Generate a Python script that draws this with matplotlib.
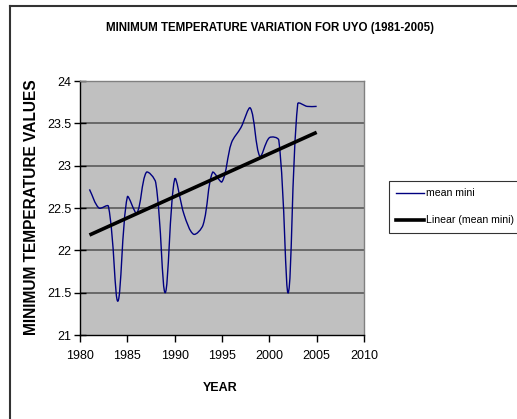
import numpy as np
import matplotlib
matplotlib.use("Agg")
import matplotlib.pyplot as plt
from matplotlib.path import Path
from matplotlib.patches import PathPatch
from matplotlib.lines import Line2D

years = [1981, 1982, 1983, 1984, 1985, 1986, 1987, 1988, 1989, 1990,
         1991, 1992, 1993, 1994, 1995, 1996, 1997, 1998, 1999, 2000,
         2001, 2002, 2003, 2004, 2005]
mean_mini = [22.72, 22.50, 22.52, 21.40, 22.63, 22.44, 22.92, 22.80, 21.50, 22.84,
             22.42, 22.19, 22.30, 22.92, 22.81, 23.27, 23.45, 23.68, 23.11, 23.33,
             23.30, 21.50, 23.73, 23.70, 23.70]
x_ticks = [1980, 1985, 1990, 1995, 2000, 2005, 2010]
y_ticks = [21, 21.5, 22, 22.5, 23, 23.5, 24]
y_tick_labels = ["21", "21.5", "22", "22.5", "23", "23.5", "24"]
title = "MINIMUM TEMPERATURE VARIATION FOR UYO (1981-2005)"
x_label = "YEAR"
y_label = "MINIMUM TEMPERATURE VALUES"
series_name = "mean mini"
trend_name = "Linear (mean mini)"

FONT = ["Liberation Sans", "DejaVu Sans"]

W, H = 517, 419
fig = plt.figure(figsize=(W / 100, H / 100), dpi=100)
fig.patch.set_facecolor("white")

ax = fig.add_axes([80 / W, 1 - 335 / H, (364 - 80) / W, (335 - 81) / H])
ax.set_facecolor("#C0C0C0")
ax.set_xlim(1980, 2010)
ax.set_ylim(21, 24)

for yv in y_ticks[1:-1]:
    ax.axhline(yv, color="#5a5a5a", lw=1.2, zorder=1)

# smoothed line: chord-weighted cubic Bezier through the data (Excel-like smoothing)
sx, sy = 9.47, 84.7  # approx pixel scale per year / per degree, for smoothing only
xs = np.array(years, float)
ys = np.array(mean_mini, float)
P = np.column_stack([xs * sx, ys * sy])
n = len(P)
k = 1.0 / 3.0
verts = [(xs[0], ys[0])]
codes = [Path.MOVETO]
for i in range(n - 1):
    p0 = P[max(i - 1, 0)]
    p1 = P[i]
    p2 = P[i + 1]
    p3 = P[min(i + 2, n - 1)]
    d01 = np.linalg.norm(p1 - p0)
    d12 = np.linalg.norm(p2 - p1)
    d23 = np.linalg.norm(p3 - p2)
    c1 = p1 + (p2 - p0) * (d12 / (d01 + d12)) * k
    c2 = p2 - (p3 - p1) * (d12 / (d12 + d23)) * k
    for c in (c1, c2, p2):
        verts.append((c[0] / sx, c[1] / sy))
    codes += [Path.CURVE4, Path.CURVE4, Path.CURVE4]
patch = PathPatch(Path(verts, codes), facecolor="none", edgecolor="#000080",
                  lw=1.0, zorder=3)
ax.add_patch(patch)

# linear trend
coef = np.polyfit(xs, ys, 1)
ax.plot([xs[0], xs[-1]], np.polyval(coef, [xs[0], xs[-1]]), color="black",
        lw=2.6, zorder=4, solid_capstyle="butt")

ax.set_xticks(x_ticks)
ax.set_xticklabels([str(t) for t in x_ticks], family=FONT, fontsize=9)
ax.set_yticks(y_ticks)
ax.set_yticklabels(y_tick_labels, family=FONT, fontsize=9)
ax.tick_params(axis="x", direction="out", length=5, width=1, color="black", pad=6)
ax.tick_params(axis="y", direction="inout", length=8, width=1, color="black", pad=2)

for s in ["top", "right"]:
    ax.spines[s].set_color("#808080")
    ax.spines[s].set_linewidth(1.0)
for s in ["left", "bottom"]:
    ax.spines[s].set_color("black")
    ax.spines[s].set_linewidth(1.0)

fig.text(270 / W, 1 - 28 / H, title, ha="center", va="center",
         family=FONT, fontweight="bold", fontsize=8.3)
fig.text(220 / W, 1 - 388 / H, x_label, ha="center", va="center",
         family=FONT, fontweight="bold", fontsize=9)
fig.text(32 / W, 1 - 207 / H, y_label, ha="center", va="center", rotation=90,
         family=FONT, fontweight="bold", fontsize=11.2)

# legend
handles = [Line2D([0], [0], color="#000080", lw=1.0),
           Line2D([0], [0], color="black", lw=2.6)]
leg = fig.legend(handles, [series_name, trend_name], loc="upper left",
                 bbox_to_anchor=(389 / W, 1 - 181 / H), frameon=True,
                 prop={"family": FONT, "size": 7.6}, handlelength=2.6,
                 handletextpad=0.25, borderpad=0.7, labelspacing=1.6,
                 borderaxespad=0, fancybox=False)
leg.get_frame().set_edgecolor("black")
leg.get_frame().set_linewidth(0.8)

# chart border (top and left visible)
fig.add_artist(Line2D([10 / W, 1.0], [1 - 6 / H, 1 - 6 / H], color="#333333",
                      lw=1.5, transform=fig.transFigure))
fig.add_artist(Line2D([10 / W, 10 / W], [0, 1 - 6 / H], color="#333333",
                      lw=1.5, transform=fig.transFigure))

fig.savefig("out.png", dpi=100)
